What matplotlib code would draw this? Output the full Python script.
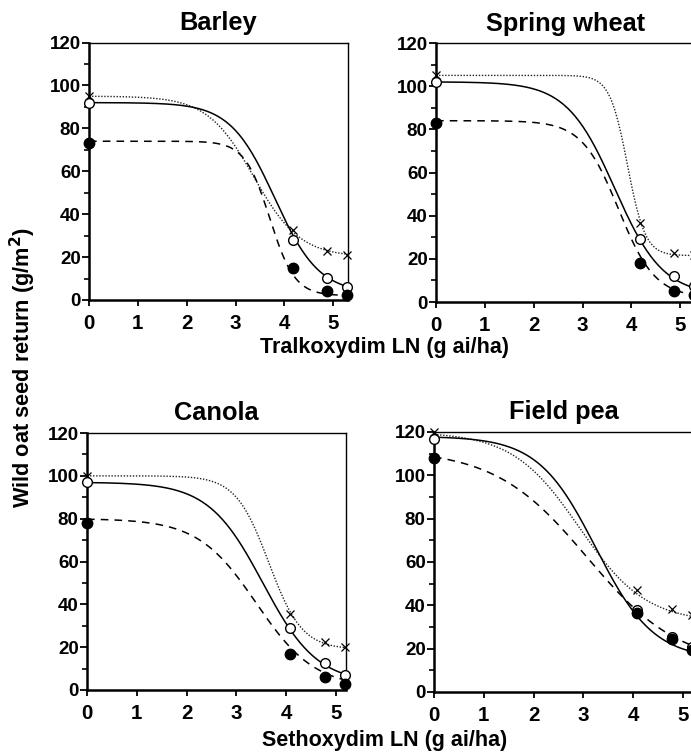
import numpy as np
import matplotlib.pyplot as plt
from matplotlib.ticker import MultipleLocator

plt.rcParams['font.family'] = ['Liberation Sans', 'DejaVu Sans']
plt.rcParams['font.weight'] = 'bold'

# doses on LN scale (0 = untreated control)
tral_x = [0, 4.17, 4.87, 5.27]
seth_x = [0, 4.07, 4.77, 5.18]

# wild oat seed return (g/m2): x = cross, o = open circle, f = filled circle
barley_cross = [95, 32.5, 23, 21]
barley_open = [92, 28, 10.3, 6]
barley_filled = [73, 15, 4.2, 2.3]

wheat_cross = [105, 36.5, 22.5, 22]
wheat_open = [102, 29, 12, 7.3]
wheat_filled = [83, 18, 5, 3.2]

canola_cross = [100, 35.4, 22.5, 20]
canola_open = [97, 29, 12.5, 7]
canola_filled = [78, 17, 6.3, 2.9]

pea_cross = [120, 47, 38.3, 35.5]
pea_open = [117, 38, 25.5, 21]
pea_filled = [108, 36.4, 24.4, 19.4]

# fitted logistic curves: upper, lower, midpoint, slope
barley_fit_cross = [95, 20, 3.37, 2.1]
barley_fit_open = [92, 3, 3.8, 2.2]
barley_fit_filled = [74, 2, 3.7, 3.9]

wheat_fit_cross = [105, 21.5, 3.92, 5.5]
wheat_fit_open = [102, 3, 3.66, 2.03]
wheat_fit_filled = [84, 2, 3.735, 2.66]

canola_fit_cross = [100, 19, 3.65, 3.0]
canola_fit_open = [97, 3, 3.53, 1.83]
canola_fit_filled = [80, 1, 3.4, 1.7]

pea_fit_cross = [120, 32, 2.915, 1.49]
pea_fit_open = [118, 15, 3.25, 1.72]
pea_fit_filled = [112, 12, 3.08, 1.075]


def logistic(x, d, c, e, b):
    return c + (d - c) / (1 + np.exp(b * (x - e)))


W, H = 691, 752
fig = plt.figure(figsize=(W / 100, H / 100), dpi=100)

panels = [
    ("Barley", tral_x, barley_cross, barley_open, barley_filled,
     barley_fit_cross, barley_fit_open, barley_fit_filled, (89, 42.5, 300), 5.3),
    ("Spring wheat", tral_x, wheat_cross, wheat_open, wheat_filled,
     wheat_fit_cross, wheat_fit_open, wheat_fit_filled, (436, 43, 302), 5.3),
    ("Canola", seth_x, canola_cross, canola_open, canola_filled,
     canola_fit_cross, canola_fit_open, canola_fit_filled, (87, 433, 690), 5.2),
    ("Field pea", seth_x, pea_cross, pea_open, pea_filled,
     pea_fit_cross, pea_fit_open, pea_fit_filled, (434, 432, 692), 5.2),
]

for (title, xs, yc, yo, yf, fc, fo, ff, (left, top, bottom), xmax) in panels:
    ax = fig.add_axes([left / W, 1 - bottom / H, 259 / W, (bottom - top) / H])
    xx = np.linspace(0, xmax, 200)
    ax.plot(xx, logistic(xx, *fc), color='#222222', lw=1.0, ls=(0, (1, 1.2)), clip_on=False)
    ax.plot(xx, logistic(xx, *fo), color='black', lw=1.1, ls='-', clip_on=False)
    ax.plot(xx, logistic(xx, *ff), color='black', lw=1.1, ls=(0, (5, 4)), clip_on=False)
    ax.plot(xs, yc, ls='none', marker='x', ms=6, mew=0.9, color='black', clip_on=False, zorder=5)
    ax.plot(xs, yo, ls='none', marker='o', ms=7, mew=1.0, mfc='white', mec='black', clip_on=False, zorder=5)
    ax.plot(xs, yf, ls='none', marker='o', ms=7.5, color='black', clip_on=False, zorder=5)

    ax.set_xlim(0, xmax)
    ax.set_ylim(0, 120)
    ax.set_xticks([0, 1, 2, 3, 4, 5])
    ax.yaxis.set_major_locator(MultipleLocator(20))
    ax.yaxis.set_minor_locator(MultipleLocator(10))
    ax.tick_params(axis='y', which='major', labelsize=13.5, length=5, width=1.3, pad=1)
    ax.tick_params(axis='y', which='minor', length=3.5, width=1.2)
    ax.tick_params(axis='x', which='major', labelsize=14.8, length=4, width=1.3, pad=6)
    for lab in ax.get_xticklabels() + ax.get_yticklabels():
        lab.set_fontweight('bold')
    ax.spines['left'].set_linewidth(1.8)
    ax.spines['bottom'].set_linewidth(1.8)
    ax.spines['top'].set_linewidth(1.0)
    ax.spines['right'].set_linewidth(1.0)
    ax.set_title(title, fontsize=18.3, fontweight='bold', pad=9)

fig.text(385 / W, 1 - 353 / H, "Tralkoxydim LN (g ai/ha)", ha='center', va='baseline',
         fontsize=15.5, fontweight='bold')
fig.text(385 / W, 1 - 746 / H, "Sethoxydim LN (g ai/ha)", ha='center', va='baseline',
         fontsize=15.5, fontweight='bold')
fig.text(23 / W, 1 - 368 / H, "Wild oat seed return (g/m$^\\mathbf{2}$)", ha='center', va='center',
         rotation=90, fontsize=15.7, fontweight='bold')

plt.savefig("out.png", dpi=100)
